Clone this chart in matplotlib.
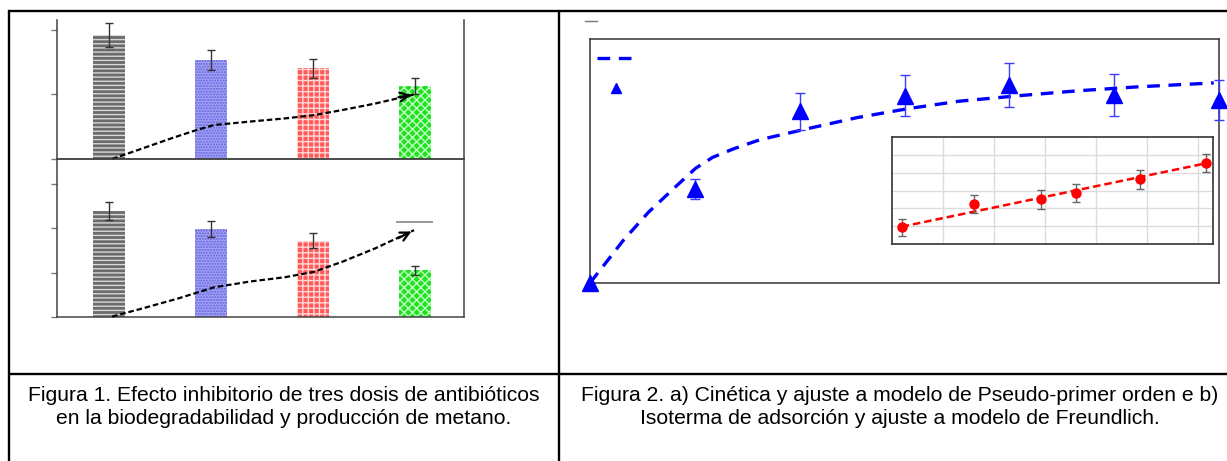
import numpy as np
import matplotlib
matplotlib.use("Agg")
import matplotlib.pyplot as plt
from matplotlib.lines import Line2D

plt.rcParams['font.family'] = ['Liberation Sans', 'DejaVu Sans']
plt.rcParams['hatch.linewidth'] = 1.0

# ---------------- data ----------------
doses = ['Control', 'Dosis 1', 'Dosis 2', 'Dosis 3']
biodeg = [1.92, 1.53, 1.41, 1.13]
biodeg_err = [0.19, 0.155, 0.147, 0.124]
methane = [2.39, 1.98, 1.72, 1.05]
methane_err = [0.21, 0.18, 0.17, 0.105]

trend1_x = [0.03, 0.33, 0.61, 0.86, 1.03, 1.38, 1.73, 2.01, 2.29, 2.61, 2.99]
trend1_y = [0.0, 0.165, 0.32, 0.45, 0.527, 0.58, 0.63, 0.68, 0.76, 0.86, 1.0]
trend2_x = [0.03, 0.33, 0.68, 1.03, 1.38, 1.73, 2.01, 2.29, 2.61, 2.99]
trend2_y = [0.01, 0.195, 0.42, 0.67, 0.80, 0.90, 1.02, 1.25, 1.55, 1.96]
stray_y = 2.14
stray_x = [2.81, 3.18]

time = [0, 1, 2, 3, 4, 5, 6]
q = [0.0, 3.85, 7.03, 7.68, 8.11, 7.70, 7.50]
q_err = [0.0, 0.41, 0.76, 0.84, 0.90, 0.86, 0.82]
t_fit = [0, 0.32, 0.56, 0.83, 1.01, 1.17, 1.37, 1.62, 1.87, 2.07, 2.55, 3.04, 3.52, 4.1, 4.66, 5.23, 5.95]
q_fit = [0, 1.76, 2.91, 4.0, 4.71, 5.15, 5.5, 5.87, 6.12, 6.32, 6.78, 7.15, 7.45, 7.68, 7.88, 8.04, 8.2]

ce = [0.19, 1.61, 2.92, 3.62, 4.86, 6.17]
qe = [0.94, 2.25, 2.51, 2.85, 3.63, 4.53]
qe_err = [0.48, 0.50, 0.52, 0.52, 0.52, 0.52]
ce_fit = [0.19, 6.17]
qe_fit = [0.97, 4.53]

cap1 = ["Figura 1. Efecto inhibitorio de tres dosis de antibióticos",
        "en la biodegradabilidad y producción de metano."]
cap2 = ["Figura 2. a) Cinética y ajuste a modelo de Pseudo-primer orden e b)",
        "Isoterma de adsorción y ajuste a modelo de Freundlich."]

# ---------------- layout helpers ----------------
W, H = 1227, 461
fig = plt.figure(figsize=(W / 100, H / 100), dpi=100)


def rect(l, t, r, b):
    return [l / W, 1 - b / H, (r - l) / W, (b - t) / H]


# background / table
bg = fig.add_axes([0, 0, 1, 1])
bg.set_xlim(0, W)
bg.set_ylim(H, 0)
bg.axis('off')
lk = dict(color='black', lw=1.7, solid_capstyle='butt')
bg.plot([8, W], [11, 11], **lk)
bg.plot([9, 9], [10, H], **lk)
bg.plot([559, 559], [10, H], **lk)
bg.plot([8, W], [374, 374], **lk)
bg.plot([585, 597], [21, 21], color='#777777', lw=1)

for i, s in enumerate(cap1):
    bg.text(284, 395 + 23 * i, s, ha='center', va='center', fontsize=15.2)
for i, s in enumerate(cap2):
    bg.text(900, 395 + 23 * i, s, ha='center', va='center', fontsize=15.2)

# ---------------- bar charts ----------------
x = np.arange(len(doses))
styles = [dict(facecolor='#6b6b6b', edgecolor='#d8d8d8', hatch='----'),
          dict(facecolor='#a4a4f4', edgecolor='#6060e0', hatch='......'),
          dict(facecolor='#ff5a5a', edgecolor='#ffd6d6', hatch='+++'),
          dict(facecolor='#22e022', edgecolor='#c0ffc0', hatch='xxxx')]


def bar_panel(ax, vals, errs, ytop, ticks):
    for xi, v, st in zip(x, vals, styles):
        ax.bar(xi, v, width=0.32, linewidth=0, zorder=2, **st)
    ax.errorbar(x, vals, yerr=errs, fmt='none', ecolor='#333333',
                elinewidth=1, capsize=3, capthick=1, zorder=4)
    ax.set_xlim(-0.51, 3.48)
    ax.set_ylim(0, ytop)
    ax.set_yticks(ticks)
    ax.set_yticklabels([])
    ax.set_xticks([])
    ax.tick_params(axis='y', length=4, width=1, color='#777777', direction='out')
    for sp in ax.spines.values():
        sp.set_color('#444444')
        sp.set_linewidth(1.1)
    ax.patch.set_alpha(0)


ax1 = fig.add_axes(rect(57, 20, 464, 159))
bar_panel(ax1, biodeg, biodeg_err, 2.155, [0, 1, 2])
ax1.spines['top'].set_visible(False)
ax1.plot(trend1_x, trend1_y, color='black', lw=1.6, dashes=(2.5, 1.3), zorder=5, clip_on=False)
ax1.annotate('', xy=(trend1_x[-1], trend1_y[-1]), xytext=(trend1_x[-2] + 0.2, trend1_y[-2] + 0.09),
             arrowprops=dict(arrowstyle='->', lw=1.6, color='black', mutation_scale=16), zorder=6)

ax2 = fig.add_axes(rect(57, 159, 464, 317))
bar_panel(ax2, methane, methane_err, 3.567, [0, 1, 2, 3])
ax2.plot(trend2_x, trend2_y, color='black', lw=1.6, dashes=(2.5, 1.3), zorder=5, clip_on=False)
ax2.annotate('', xy=(trend2_x[-1], trend2_y[-1]), xytext=(trend2_x[-2] + 0.2, trend2_y[-2] + 0.2),
             arrowprops=dict(arrowstyle='->', lw=1.6, color='black', mutation_scale=16), zorder=6)
ax2.hlines(stray_y, stray_x[0], stray_x[1], color='#888888', lw=1.2)

# ---------------- kinetics ----------------
ax3 = fig.add_axes(rect(590, 39, 1219, 283))
ax3.set_xlim(0, 6)
ax3.set_ylim(0, 10)
ax3.set_xticks([])
ax3.set_yticks([])
for sp in ax3.spines.values():
    sp.set_color('#333333')
    sp.set_linewidth(1.1)
fit_line, = ax3.plot(t_fit, q_fit, color='#0000ff', lw=2.4, dashes=(3.8, 2.6), zorder=3)
ax3.errorbar(time[1:], q[1:], yerr=q_err[1:], fmt='none', ecolor='#3c3cff',
             elinewidth=1, capsize=3.5, capthick=1, zorder=4, clip_on=False)
ax3.plot(time, q, linestyle='none', marker='^', markersize=11, color='#0000ff',
         zorder=5, clip_on=False)
marker_h = Line2D([], [], linestyle='none', marker='^', markersize=6.5, color='#0000ff')
leg = ax3.legend(handles=[fit_line, marker_h], labels=['', ''], loc='upper left',
                 bbox_to_anchor=(-0.009, 1.0), frameon=False, fontsize=10,
                 handlelength=2.7, labelspacing=1.15, borderaxespad=0.6,
                 borderpad=0.3, handletextpad=0)

# ---------------- isotherm inset ----------------
ax4 = fig.add_axes(rect(892, 137, 1213, 244))
ax4.set_xlim(0, 6.3)
ax4.set_ylim(0, 6)
ax4.set_xticks([1, 2, 3, 4, 5, 6])
ax4.set_yticks([1, 2, 3, 4, 5])
ax4.tick_params(length=0, labelbottom=False, labelleft=False)
ax4.grid(True, color='#dcdcdc', lw=1)
ax4.set_axisbelow(True)
for sp in ax4.spines.values():
    sp.set_color('#333333')
    sp.set_linewidth(1.2)
ax4.plot(ce_fit, qe_fit, color='#ff0000', lw=1.8, dashes=(3, 1.6), zorder=3)
ax4.errorbar(ce, qe, yerr=qe_err, fmt='none', ecolor='#666666', elinewidth=1,
             capsize=3, capthick=1, zorder=4, clip_on=False)
ax4.plot(ce, qe, linestyle='none', marker='o', markersize=6.5, color='#ff0000',
         zorder=5, clip_on=False)

fig.savefig('out.png', dpi=100)
